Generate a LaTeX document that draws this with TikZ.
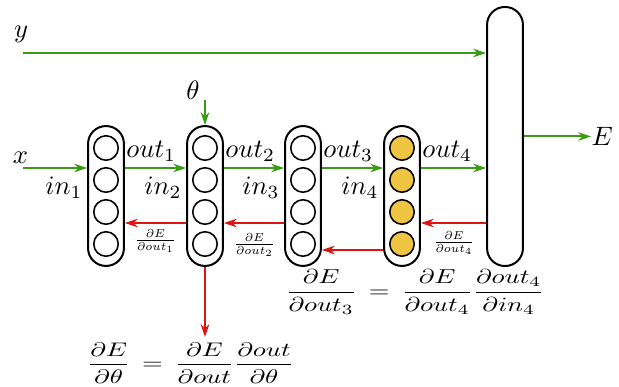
\documentclass[tikz,border=0pt]{standalone}
\usetikzlibrary{arrows.meta,calc}
\definecolor{fwd}{RGB}{58,155,20}
\definecolor{bwd}{RGB}{220,20,20}
\definecolor{act}{RGB}{238,196,64}
\begin{document}
\begin{tikzpicture}[x=0.376pt,y=0.376pt,
  layer/.style={draw,line width=0.75pt,rounded corners=6.7pt,minimum width=13.5pt,minimum height=52.6pt,inner sep=0pt},
  neuron/.style={draw,circle,line width=0.6pt,minimum size=9.2pt,inner sep=0pt},
  fwdarrow/.style={draw=fwd,line width=0.75pt,-{Stealth[length=4.8pt,width=3.2pt]}},
  fwdthin/.style={draw=fwd,line width=0.5pt,-{Stealth[length=4.8pt,width=3.2pt]}},
  bwdarrow/.style={draw=bwd,line width=0.75pt,-{Stealth[length=4.8pt,width=3.2pt]}},
  bwdthin/.style={draw=bwd,line width=0.5pt,-{Stealth[length=4.8pt,width=3.2pt]}},
  lab/.style={inner sep=0pt},
  grad/.style={font=\small,inner sep=0pt}
]
\useasboundingbox (0,0) rectangle (619,387);

% layers
\foreach \i/\x in {1/106,2/205,3/303,4/402}
  \node[layer] (L\i) at (\x,191) {};
\node[layer,minimum height=97.4pt] (Lout) at (505,250.5) {};

% neurons
\foreach \i in {1,2,3}
  \foreach \j/\dy in {1/48,2/16,3/-16,4/-48}
    \node[neuron] (N\i\j) at ($(L\i)+(0,\dy)$) {};
\foreach \j/\dy in {1/48,2/16,3/-16,4/-48}
  \node[neuron,fill=act] (N4\j) at ($(L4)+(0,\dy)$) {};

% outer labels
\node[lab] (xl) at (20.5,229.5) {$x$};
\node[lab] (yl) at (21,352.5) {$y$};
\node[lab] (thl) at (193,297) {$\theta$};
\node[lab,anchor=west] (El) at (591,250.5) {$E$};
\coordinate (xs) at (23,219);
\coordinate (ys) at (23,334);
\coordinate (ts) at (205,287);
\coordinate (de) at (205,50);

% forward arrows
\draw[fwdarrow] (xs) -- (L1.west |- xs);
\foreach \a/\b in {1/2,2/3,3/4} {
  \draw[fwdarrow] ($(L\a.east)+(0,28)$) -- ($(L\b.west)+(0,28)$);
}
\coordinate (o4) at ($(L4.east)+(0,28)$);
\draw[fwdarrow] (o4) -- (Lout.west |- o4);
\draw[fwdarrow] (ys) -- (Lout.west |- ys);
\draw[fwdarrow] (Lout.east) -- (El.west);
\draw[fwdthin] (ts) -- (L2.north);

% backward arrows
\foreach \a/\b in {2/1,3/2} {
  \draw[bwdarrow] ($(L\a.west)+(0,-27)$) -- ($(L\b.east)+(0,-27)$);
}
\coordinate (b4) at ($(L4.east)+(0,-27)$);
\draw[bwdarrow] (Lout.west |- b4) -- (b4);
\draw[bwdarrow] ($(L4.west)+(0,-54)$) -- ($(L3.east)+(0,-54)$);
\draw[bwdthin] (L2.south) -- (de);

% out / in labels
\foreach \i in {1,2,3,4} {
  \node[lab,anchor=base west] (out\i) at ($(L\i.east)+(1,38)$) {$out_{\i}$};
  \node[lab,anchor=base east] (in\i) at ($(L\i.west)+(-4,1)$) {$in_{\i}$};
}

% gradient labels
\node[grad] (g1) at (155.5,146) {\scalebox{0.72}{$\frac{\partial E}{\partial out_1}$}};
\node[grad] (g2) at (254.5,142) {\scalebox{0.72}{$\frac{\partial E}{\partial out_2}$}};
\node[grad] (g4) at (454,144) {\scalebox{0.72}{$\frac{\partial E}{\partial out_4}$}};

% equations
\node[lab] (eq1) at (415,95) {\scalebox{1}[0.76]{$\displaystyle\frac{\partial E}{\partial out_3}\,=\,\frac{\partial E}{\partial out_4}\frac{\partial out_4}{\partial in_4}$}};
\node[lab] (eq2) at (190.5,24) {\scalebox{1}[0.74]{$\displaystyle\frac{\partial E}{\partial \theta}\,=\,\frac{\partial E}{\partial out}\frac{\partial out}{\partial \theta}$}};
\end{tikzpicture}
\end{document}
